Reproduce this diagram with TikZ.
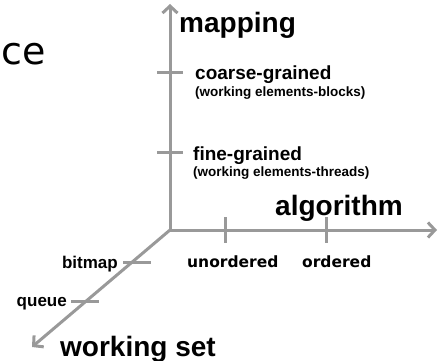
\documentclass[tikz,border=0pt]{standalone}
\usepackage{fontspec}
\setmainfont{Liberation Sans}
\newfontfamily\handfont{DejaVu Sans}
\usetikzlibrary{arrows.meta, positioning}
\definecolor{axisgray}{RGB}{153,153,153}
\tikzset{
    axis/.style={draw=axisgray, line width=3pt, -{Straight Barb[length=7pt,width=15pt]}},
    tickmark/.style={draw=axisgray, line width=3pt},
    biglabel/.style={font=\fontsize{28}{32}\selectfont\bfseries, inner sep=0pt, anchor=base west},
    midlabel/.style={font=\fontsize{19}{22}\selectfont\bfseries, inner sep=0pt, anchor=base west},
    sublabel/.style={font=\fontsize{13.5}{16}\selectfont\bfseries, inner sep=0pt, anchor=base west},
    handlabel/.style={font=\handfont\fontsize{15.5}{18}\selectfont\bfseries, inner sep=0pt, anchor=base west}
}

\begin{document}
\begin{tikzpicture}[x=1pt, y=-1pt]
    \useasboundingbox (0,0) rectangle (439,361);
    \def \tk {13}
    % axes
    \coordinate (O) at (170,230);
    \coordinate (mtip) at (170,4);
    \coordinate (atip) at (437,230);
    \coordinate (wtip) at (32,347);
    \draw[axis] (O) -- (mtip);
    \draw[axis] (O) -- (atip);
    \draw[axis] (O) -- (wtip);
    % ticks
    \coordinate (m1a) at (170-\tk,73);
    \coordinate (m1b) at (170+\tk,73);
    \coordinate (m2a) at (170-\tk,152);
    \coordinate (m2b) at (170+\tk,152);
    \coordinate (a1a) at (225,230-\tk);
    \coordinate (a1b) at (225,230+\tk);
    \coordinate (a2a) at (326,230-\tk);
    \coordinate (a2b) at (326,230+\tk);
    \coordinate (w1a) at (123,262);
    \coordinate (w1b) at (151,262);
    \coordinate (w2a) at (71,301);
    \coordinate (w2b) at (99,301);
    \draw[tickmark] (m1a) -- (m1b);
    \draw[tickmark] (m2a) -- (m2b);
    \draw[tickmark] (a1a) -- (a1b);
    \draw[tickmark] (a2a) -- (a2b);
    \draw[tickmark] (w1a) -- (w1b);
    \draw[tickmark] (w2a) -- (w2b);
    % labels
    \node[font=\handfont\fontsize{38}{42}\selectfont, inner sep=0pt, anchor=base east] (ce) at (46,64) {ce};
    \node[biglabel] (mapping) at (179,33) {mapping};
    \node[midlabel] (coarse) at (195,79) {coarse-grained};
    \node[sublabel] (blocks) at (195,96) {(working elements-blocks)};
    \node[midlabel] (fine) at (193,160) {fine-grained};
    \node[sublabel] (threads) at (193,176) {(working elements-threads)};
    \node[biglabel] (algorithm) at (275,215) {algorithm};
    \node[handlabel] (unordered) at (187,267) {unordered};
    \node[handlabel] (ordered) at (302,267) {ordered};
    \node[midlabel, font=\fontsize{17}{20}\selectfont\bfseries, anchor=base east] (bitmap) at (118,268) {bitmap};
    \node[midlabel, font=\fontsize{17}{20}\selectfont\bfseries, anchor=base east] (queue) at (67,306) {queue};
    \node[biglabel] (workset) at (60,356) {working set};
\end{tikzpicture}
\end{document}
